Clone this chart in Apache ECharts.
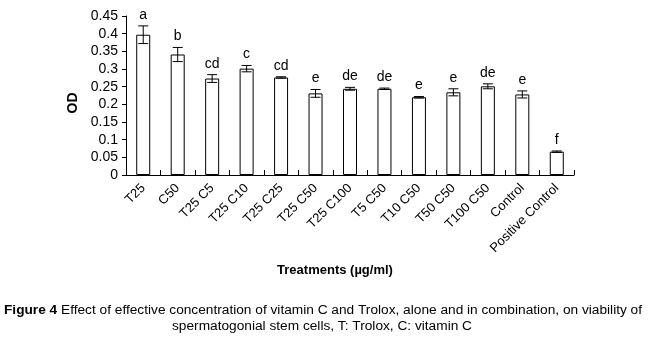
<!DOCTYPE html>
<html>
<head>
<meta charset="utf-8">
<script src="https://cdn.jsdelivr.net/npm/echarts@6/dist/echarts.min.js"></script>
<style>
  html, body { margin: 0; padding: 0; background: #fff; }
  #chart { width: 648px; height: 342px; }
</style>
</head>
<body>
<div id="chart"></div>
<script>
// treatments and mean OD
var categories = ['T25', 'C50', 'T25 C5', 'T25 C10', 'T25 C25', 'T25 C50', 'T25 C100',
  'T5 C50', 'T10 C50', 'T50 C50', 'T100 C50', 'Control', 'Positive Control'];
var odMean = [0.397, 0.341, 0.273, 0.301, 0.276, 0.231, 0.244, 0.244, 0.220, 0.234, 0.251, 0.228, 0.066];
var odErr = [0.025, 0.020, 0.011, 0.009, 0.002, 0.011, 0.004, 0.002, 0.002, 0.010, 0.007, 0.010, 0.002];
var letters = ['a', 'b', 'cd', 'c', 'cd', 'e', 'de', 'de', 'e', 'e', 'de', 'e', 'f'];
var yTicks = [0, 0.05, 0.1, 0.15, 0.2, 0.25, 0.3, 0.35, 0.4, 0.45];

var font = '"Liberation Sans", Arial, sans-serif';
var chart = echarts.init(document.getElementById('chart'));

var errData = odMean.map(function (v, i) { return [i, v, odErr[i], letters[i]]; });

var option = {
  backgroundColor: '#fff',
  animation: false,
  grid: { left: 126, right: 74, top: 16, bottom: 167, containLabel: false },
  xAxis: {
    type: 'category',
    data: categories,
    axisLine: { lineStyle: { color: '#000', width: 1 } },
    axisTick: { show: true, inside: true, length: 5, lineStyle: { color: '#000' } },
    axisLabel: { rotate: 45, color: '#000', fontFamily: font, fontSize: 13, margin: 11, interval: 0 }
  },
  yAxis: {
    type: 'value',
    min: 0,
    max: yTicks[yTicks.length - 1],
    interval: 0.05,
    splitLine: { show: false },
    axisLine: { show: true, lineStyle: { color: '#000', width: 1 } },
    axisTick: { show: true, length: 4, lineStyle: { color: '#000' } },
    axisLabel: { color: '#000', fontFamily: font, fontSize: 14, margin: 8 }
  },
  series: [
    {
      type: 'bar',
      data: odMean,
      barWidth: 14,
      itemStyle: { color: '#fff', borderColor: '#000', borderWidth: 1 }
    },
    {
      type: 'custom',
      data: errData,
      z: 10,
      renderItem: function (params, api) {
        var x = api.value(0), v = api.value(1), e = api.value(2);
        var top = api.coord([x, v + e]);
        var bot = api.coord([x, v - e]);
        var w = 5;
        return {
          type: 'group',
          children: [
            { type: 'line', shape: { x1: top[0], y1: top[1], x2: bot[0], y2: bot[1] }, style: { stroke: '#000', lineWidth: 1 } },
            { type: 'line', shape: { x1: top[0] - w, y1: top[1], x2: top[0] + w, y2: top[1] }, style: { stroke: '#000', lineWidth: 1 } },
            { type: 'line', shape: { x1: bot[0] - w, y1: bot[1], x2: bot[0] + w, y2: bot[1] }, style: { stroke: '#000', lineWidth: 1 } },
            { type: 'text', x: top[0], y: top[1] - 4,
              style: { text: letters[params.dataIndex], fill: '#000', font: '14px ' + font, textAlign: 'center', textVerticalAlign: 'bottom' } }
          ]
        };
      }
    }
  ],
  graphic: [
    { type: 'text', x: 73, y: 103, rotation: Math.PI / 2,
      style: { text: 'OD', fill: '#000', font: 'bold 14px ' + font, textAlign: 'center', textVerticalAlign: 'middle' } },
    { type: 'text', x: 335, y: 270,
      style: { text: 'Treatments (\u00b5g/ml)', fill: '#000', font: 'bold 13px ' + font, textAlign: 'center', textVerticalAlign: 'middle' } },
    { type: 'text', x: 323, y: 310,
      style: {
        text: '{b|Figure 4} Effect of effective concentration of vitamin C and Trolox, alone and in combination, on viability of',
        textAlign: 'center', textVerticalAlign: 'middle',
        rich: {
          b: { fontWeight: 'bold', fontSize: 13.7, fontFamily: font, fill: '#000' }
        },
        fontSize: 13.7, fontFamily: font, fill: '#000'
      } },
    { type: 'text', x: 322, y: 326,
      style: { text: 'spermatogonial stem cells, T: Trolox, C: vitamin C', fill: '#000', font: '13.7px ' + font, textAlign: 'center', textVerticalAlign: 'middle' } }
  ]
};

chart.setOption(option);
</script>
</body>
</html>
